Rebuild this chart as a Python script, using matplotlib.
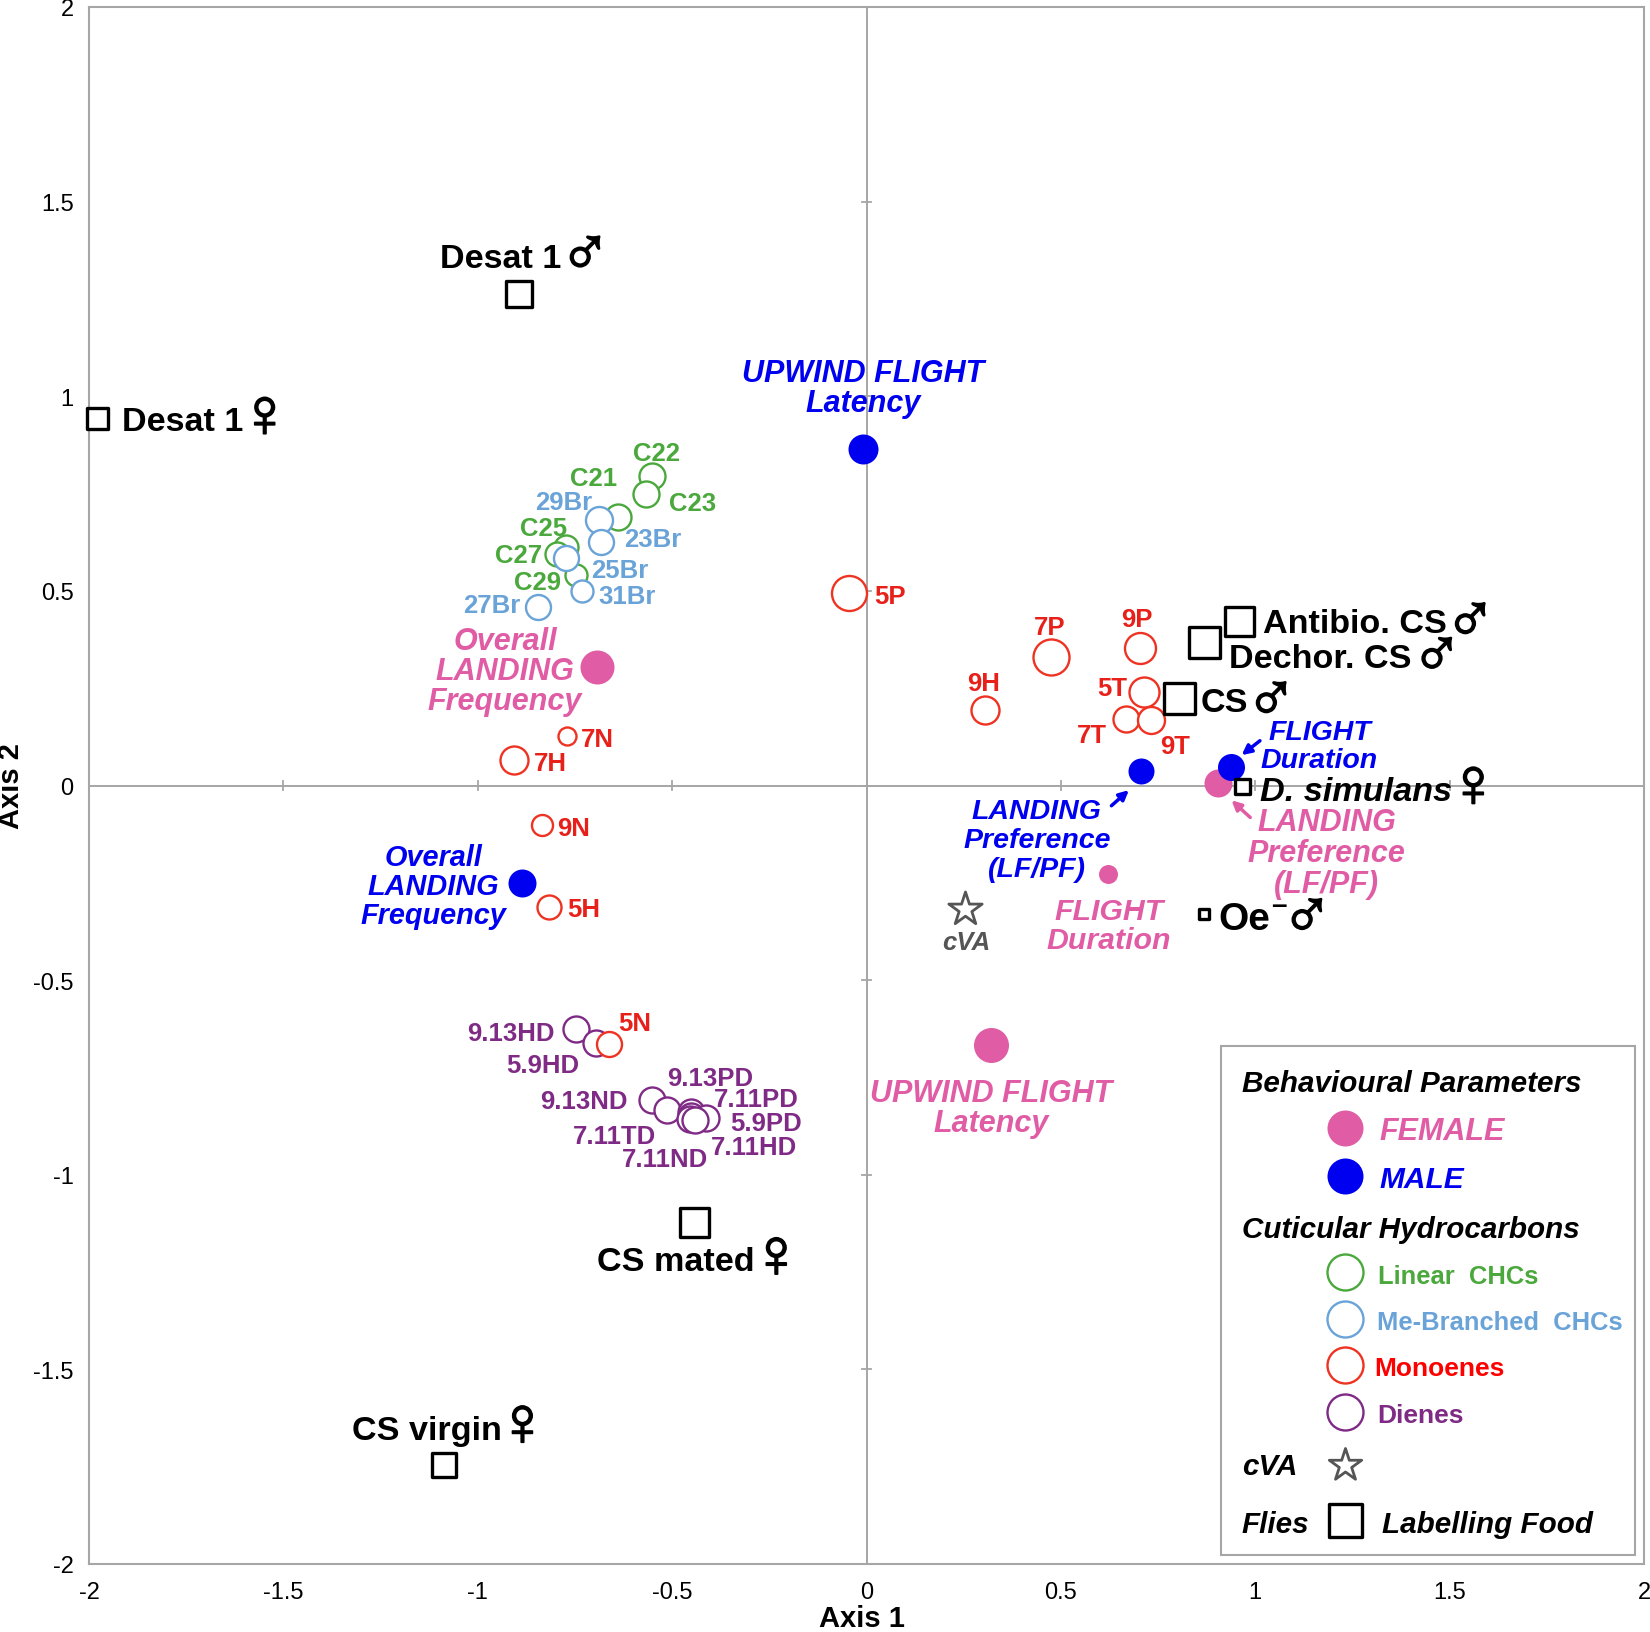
import matplotlib
matplotlib.use("Agg")
import matplotlib.pyplot as plt
import matplotlib.patheffects as pe
from matplotlib.patches import Rectangle

plt.rcParams['font.family'] = ['Liberation Sans', 'DejaVu Sans']

PINK = '#e05ca5'
BLUE = '#0000f0'
GREEN = '#4aa83c'
LBLUE = '#6aa3d8'
RED = '#ee3322'
RED_TXT = '#e8201a'
PURPLE = '#7f2a85'
GRAY = '#a6a6a6'

ticks = [-2, -1.5, -1, -0.5, 0, 0.5, 1, 1.5, 2]
tick_labels = ['-2', '-1.5', '-1', '-0.5', '0', '0.5', '1', '1.5', '2']

# behaviour, female then male
female_x = [-0.692, 0.621, 0.903, 0.321]
female_y = [0.304, -0.228, 0.007, -0.667]
female_d = [34, 19, 28, 35]
male_x = [-0.010, -0.887, 0.705, 0.938]
male_y = [0.864, -0.250, 0.037, 0.047]
male_d = [30, 28, 26, 27]

linear_names = ['C22', 'C23', 'C21', 'C25', 'C27', 'C29']
linear_x = [-0.551, -0.567, -0.640, -0.773, -0.795, -0.746]
linear_y = [0.796, 0.748, 0.691, 0.613, 0.596, 0.542]
linear_d = [26, 26, 26, 24, 24, 22]

branched_names = ['29Br', '23Br', '25Br', '31Br', '27Br']
branched_x = [-0.689, -0.684, -0.773, -0.733, -0.846]
branched_y = [0.683, 0.626, 0.585, 0.499, 0.458]
branched_d = [27, 25, 25, 22, 25]

mono_names = ['5P', '7P', '9P', '9H', '5T', '7T', '9T', '7N', '7H', '9N', '5H', '5N']
mono_x = [-0.045, 0.475, 0.703, 0.305, 0.714, 0.668, 0.733, -0.770, -0.906, -0.835, -0.817, -0.662]
mono_y = [0.494, 0.331, 0.353, 0.193, 0.239, 0.172, 0.169, 0.126, 0.066, -0.101, -0.312, -0.664]
mono_d = [35, 36, 31, 28, 30, 26, 27, 18, 28, 21, 24, 25]

diene_names = ['9.13HD', '5.9HD', '9.13ND', '7.11TD', '9.13PD', '7.11PD', '5.9PD', '7.11HD', '7.11ND']
diene_x = [-0.746, -0.697, -0.551, -0.513, -0.451, -0.451, -0.413, -0.454, -0.440]
diene_y = [-0.626, -0.661, -0.807, -0.834, -0.840, -0.848, -0.853, -0.856, -0.859]

cva_x = [0.253]
cva_y = [-0.318]

flies_names = ['Desat 1 m', 'Desat 1 f', 'CS virgin', 'CS mated', 'Oe-', 'D. simulans', 'CS', 'Dechor. CS', 'Antibio. CS']
flies_x = [-0.895, -1.980, -1.087, -0.445, 0.868, 0.965, 0.803, 0.868, 0.957]
flies_y = [1.262, 0.945, -1.746, -1.121, -0.329, 0.000, 0.226, 0.369, 0.423]
flies_d = [26, 21, 24, 29, 10, 15, 31, 31, 29]

MALE_SIGN = '\u2642'
FEMALE_SIGN = '\u2640'


def area(d):
    # marker diameter in pixels to scatter area at dpi 100
    return (d * 0.72) ** 2


def circles(ax, x, y, d, color, z):
    for xi, yi, di in zip(x, y, d):
        ax.scatter(xi, yi, s=area(di), facecolor='white', edgecolor=color,
                   linewidth=1.7, zorder=z, clip_on=False)
        z += 0.01


def label(ax, s, x, y, color, size=18.5, style='normal', ha='center', ls=1.0):
    # small shift down, the centre of matplotlib text sits a bit high
    return ax.text(x, y - 0.006, s, color=color, fontsize=size, fontweight='bold', style=style,
                   ha=ha, va='center', linespacing=ls, zorder=10)


def sign(ax, s, x, y):
    # the glyph is thin at this size, so thicken it with a stroke
    t = label(ax, s, x, y, 'black', 50)
    t.set_path_effects([pe.withStroke(linewidth=1.2, foreground='black')])


fig = plt.figure(figsize=(16.5, 16.33), dpi=100)
ax = fig.add_axes([89 / 1650, 1 - 1565 / 1633, (1644 - 89) / 1650, (1565 - 8) / 1633])
ax.set_xlim(-2, 2)
ax.set_ylim(-2, 2)
for sp in ax.spines.values():
    sp.set_color(GRAY)
    sp.set_linewidth(1.5)
ax.set_xticks(ticks)
ax.set_xticklabels(tick_labels)
ax.set_yticks(ticks)
ax.set_yticklabels(tick_labels)
ax.tick_params(axis='both', length=0, labelsize=17)
ax.tick_params(axis='x', pad=12)
ax.tick_params(axis='y', pad=11)
ax.set_xlabel('Axis 1', fontsize=21, fontweight='bold', labelpad=1, x=0.4968)
ax.set_ylabel('Axis 2', fontsize=21, fontweight='bold', labelpad=6)

# centre cross with its small ticks
ax.axhline(0, color=GRAY, lw=1.4, zorder=1)
ax.axvline(0, color=GRAY, lw=1.4, zorder=1)
for t in ticks[1:-1]:
    ax.plot([t, t], [-0.012, 0.012], color=GRAY, lw=1.3, zorder=1)
    ax.plot([-0.012, 0.012], [t, t], color=GRAY, lw=1.3, zorder=1)

# open circles
circles(ax, linear_x, linear_y, linear_d, GREEN, 3)
circles(ax, branched_x, branched_y, branched_d, LBLUE, 4)
circles(ax, diene_x, diene_y, [26] * len(diene_x), PURPLE, 3)
circles(ax, mono_x, mono_y, mono_d, RED, 4)

# filled behaviour dots
for xi, yi, di in zip(female_x, female_y, female_d):
    ax.scatter(xi, yi, s=area(di), color=PINK, linewidth=0, zorder=5)
for xi, yi, di in zip(male_x, male_y, male_d):
    ax.scatter(xi, yi, s=area(di), color=BLUE, linewidth=0, zorder=5)

# flies
for xi, yi, di in zip(flies_x, flies_y, flies_d):
    ax.scatter(xi, yi, s=area(di), marker='s', facecolor='white', edgecolor='black',
               linewidth=2.4, zorder=6, clip_on=False)

ax.scatter(cva_x, cva_y, s=area(35), marker='*', facecolor='white', edgecolor='#555555',
           linewidth=2, zorder=6)

# small labels
linear_pos = [(-0.540, 0.861), (-0.447, 0.733), (-0.701, 0.795), (-0.830, 0.668), (-0.895, 0.598), (-0.846, 0.528)]
for name, (lx, ly) in zip(linear_names, linear_pos):
    label(ax, name, lx, ly, GREEN)
branched_pos = [(-0.778, 0.734), (-0.551, 0.640), (-0.635, 0.559), (-0.616, 0.492), (-0.963, 0.469)]
for name, (lx, ly) in zip(branched_names, branched_pos):
    label(ax, name, lx, ly, LBLUE)
mono_pos = [(0.061, 0.494), (0.470, 0.413), (0.695, 0.434), (0.302, 0.269), (0.632, 0.256), (0.581, 0.136),
            (0.795, 0.107), (-0.692, 0.126), (-0.814, 0.064), (-0.754, -0.104), (-0.727, -0.312), (-0.597, -0.605)]
for name, (lx, ly) in zip(mono_names, mono_pos):
    label(ax, name, lx, ly, RED_TXT)
diene_pos = [(-0.914, -0.629), (-0.833, -0.712), (-0.727, -0.804), (-0.648, -0.894), (-0.402, -0.745),
             (-0.284, -0.799), (-0.259, -0.861), (-0.290, -0.922), (-0.518, -0.953)]
for name, (lx, ly) in zip(diene_names, diene_pos):
    label(ax, name, lx, ly, PURPLE)
label(ax, 'cVA', 0.256, -0.396, '#555555', style='italic')

# fly labels, the sign is bigger than the text
BIG = 24.6
label(ax, 'Desat 1', -1.098, 1.359, 'black', BIG, ha='left')
sign(ax, MALE_SIGN, -0.724, 1.370)
label(ax, 'Desat 1', -1.915, 0.941, 'black', BIG, ha='left')
sign(ax, FEMALE_SIGN, -1.548, 0.949)
label(ax, 'CS virgin', -1.323, -1.650, 'black', BIG, ha='left')
sign(ax, FEMALE_SIGN, -0.885, -1.642)
label(ax, 'CS mated', -0.692, -1.218, 'black', BIG, ha='left')
sign(ax, FEMALE_SIGN, -0.232, -1.210)
label(ax, 'Oe', 0.906, -0.337, 'black', 28, ha='left')
label(ax, '\u2013', 1.060, -0.300, 'black', 20)
sign(ax, MALE_SIGN, 1.133, -0.332)
label(ax, 'D. simulans', 1.011, -0.010, 'black', 24.7, style='italic', ha='left')
sign(ax, FEMALE_SIGN, 1.561, -0.001)
label(ax, 'CS', 0.860, 0.220, 'black', BIG, ha='left')
sign(ax, MALE_SIGN, 1.041, 0.225)
label(ax, 'Dechor. CS', 0.932, 0.332, 'black', BIG, ha='left')
sign(ax, MALE_SIGN, 1.467, 0.339)
label(ax, 'Antibio. CS', 1.020, 0.421, 'black', BIG, ha='left')
sign(ax, MALE_SIGN, 1.553, 0.428)

# behaviour labels
label(ax, 'UPWIND FLIGHT\nLatency', -0.008, 1.028, BLUE, 22, 'italic')
label(ax, 'Overall\nLANDING\nFrequency', -0.930, 0.300, PINK, 22, 'italic')
label(ax, 'Overall\nLANDING\nFrequency', -1.114, -0.252, BLUE, 20.8, 'italic', ls=1.06)
label(ax, 'FLIGHT\nDuration', 1.165, 0.108, BLUE, 20.5, 'italic', ls=1.12)
label(ax, 'LANDING\nPreference\n(LF/PF)', 0.438, -0.134, BLUE, 20.5, 'italic', ls=1.13)
label(ax, 'LANDING\nPreference\n(LF/PF)', 1.184, -0.167, PINK, 22, 'italic', ls=1.05)
label(ax, 'FLIGHT\nDuration', 0.623, -0.353, PINK, 21.8, 'italic', ls=1.03)
label(ax, 'UPWIND FLIGHT\nLatency', 0.321, -0.822, PINK, 22, 'italic')

# arrows to the crowded dots
arrows = [((1.012, 0.115), (0.965, 0.078), BLUE),
          ((0.630, -0.052), (0.675, -0.012), BLUE),
          ((0.987, -0.082), (0.939, -0.038), PINK)]
for start, end, col in arrows:
    ax.annotate('', xy=end, xytext=start, zorder=7,
                arrowprops=dict(arrowstyle='-|>', color=col, lw=2.5, mutation_scale=14,
                                shrinkA=0, shrinkB=0))

# hand made key
ax.add_patch(Rectangle((0.911, -1.978), 1.067, 1.309, facecolor='white', edgecolor=GRAY,
                       linewidth=1.5, zorder=8))
KEY_X = 1.231
for yk, col in [(-0.880, PINK), (-1.002, BLUE)]:
    ax.scatter(KEY_X, yk, s=area(36), color=col, linewidth=0, zorder=9)
for yk, col in [(-1.251, GREEN), (-1.370, LBLUE), (-1.489, RED), (-1.610, PURPLE)]:
    ax.scatter(KEY_X, yk, s=area(36), facecolor='white', edgecolor=col, linewidth=1.7, zorder=9)
ax.scatter(KEY_X, -1.746, s=area(34), marker='*', facecolor='white', edgecolor='#555555', linewidth=2, zorder=9)
ax.scatter(KEY_X, -1.886, s=area(33), marker='s', facecolor='white', edgecolor='black', linewidth=2.4, zorder=9)

label(ax, 'Behavioural Parameters', 0.965, -0.759, 'black', 21.3, 'italic', 'left')
label(ax, 'FEMALE', 1.320, -0.882, PINK, 22, 'italic', 'left')
label(ax, 'MALE', 1.320, -1.004, BLUE, 21.5, 'italic', 'left')
label(ax, 'Cuticular Hydrocarbons', 0.965, -1.134, 'black', 21.3, 'italic', 'left')
label(ax, 'Linear  CHCs', 1.315, -1.253, GREEN, 18.4, ha='left')
label(ax, 'Me-Branched  CHCs', 1.312, -1.372, LBLUE, 18.4, ha='left')
label(ax, 'Monoenes', 1.307, -1.491, '#ff0000', 19, ha='left')
label(ax, 'Dienes', 1.315, -1.611, PURPLE, 19, ha='left')
label(ax, 'cVA', 0.965, -1.743, 'black', 21.3, 'italic', 'left')
label(ax, 'Flies', 0.965, -1.892, 'black', 21.3, 'italic', 'left')
label(ax, 'Labelling Food', 1.326, -1.892, 'black', 21.3, 'italic', 'left')

fig.savefig('out.png', dpi=100)
